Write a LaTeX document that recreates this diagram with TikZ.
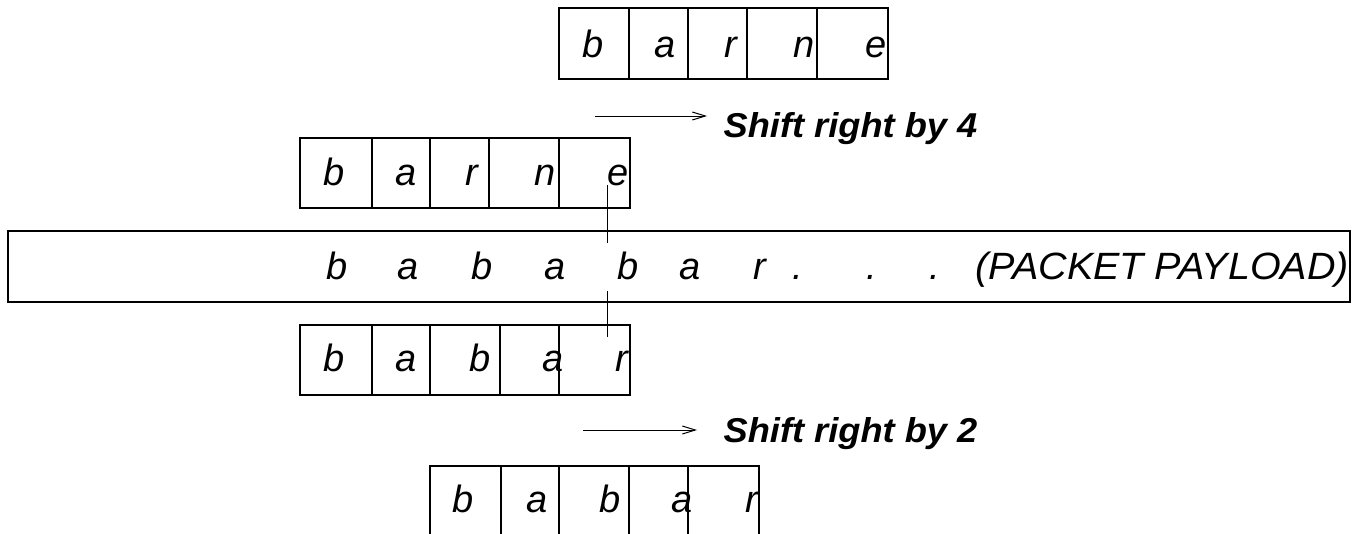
\documentclass[tikz,border=0pt]{standalone}
\usepackage{fontspec}
\setmainfont{Liberation Sans}
\usetikzlibrary{arrows.meta}

\begin{document}
\begin{tikzpicture}[x=1pt,y=-1pt,line width=1.3pt,
    letter/.style={inner sep=0pt,anchor=base,font=\itshape\fontsize{38}{44}\selectfont},
    shiftlabel/.style={inner sep=0pt,anchor=base west,xscale=1.05,font=\bfseries\itshape\fontsize{34.5}{40}\selectfont},
    shift arrow/.style={line width=1pt,-{Straight Barb[length=13pt,width=8pt,line width=1pt]}}]
    \useasboundingbox (0,0) rectangle (1357,533);

    % pattern before the shift
    \draw (559,8) rectangle (888,79);
    \foreach \x in {629,688,747,817} \draw (\x,8) -- (\x,79);
    \foreach \x/\c [count=\i] in {593/b,665/a,731/r,804/n,876/e}
        \node[letter] (top\i) at (\x,57) {\c};

    \coordinate (s4from) at (595,116);
    \coordinate (s4to) at (707,116);
    \draw[shift arrow] (s4from) -- (s4to);
    \node[shiftlabel] (shift4) at (723,137) {Shift right by 4};

    % pattern aligned on the payload
    \draw (300,138) rectangle (630,208);
    \foreach \x in {372,430,489,559} \draw (\x,138) -- (\x,208);
    \foreach \x/\c [count=\i] in {334/b,406/a,472/r,545/n,618/e}
        \node[letter] (pat\i) at (\x,185) {\c};

    % the payload itself
    \draw (8,231) rectangle (1350,302);
    \foreach \x/\c [count=\i] in {337/b,408/a,482/b,555/a,628/b,690/a,760/r,798/.,872/.,935/.}
        \node[letter] (pay\i) at (\x,279) {\c};
    \node[letter,anchor=base west,xscale=1.04] (paylabel) at (975,279) {(PACKET PAYLOAD)};

    % mismatch marker
    \coordinate (m1) at (607,185);
    \coordinate (m2) at (607,243);
    \coordinate (m3) at (607,291);
    \coordinate (m4) at (607,337);
    \draw[line width=1pt] (m1) -- (m2);
    \draw[line width=1pt] (m3) -- (m4);

    % second pattern
    \draw (300,325) rectangle (630,395);
    \foreach \x in {372,430,500,559} \draw (\x,325) -- (\x,395);
    \foreach \x/\c [count=\i] in {334/b,406/a,480/b,553/a,622/r}
        \node[letter] (low\i) at (\x,371) {\c};

    \coordinate (s2from) at (583,430);
    \coordinate (s2to) at (697,430);
    \draw[shift arrow] (s2from) -- (s2to);
    \node[shiftlabel] (shift2) at (723,442) {Shift right by 2};

    % after the shift
    \draw (430,466) rectangle (759,536);
    \foreach \x in {501,559,629,688} \draw (\x,466) -- (\x,536);
    \foreach \x/\c [count=\i] in {463/b,537/a,610/b,682/a,752/r}
        \node[letter] (bot\i) at (\x,512) {\c};
\end{tikzpicture}
\end{document}
